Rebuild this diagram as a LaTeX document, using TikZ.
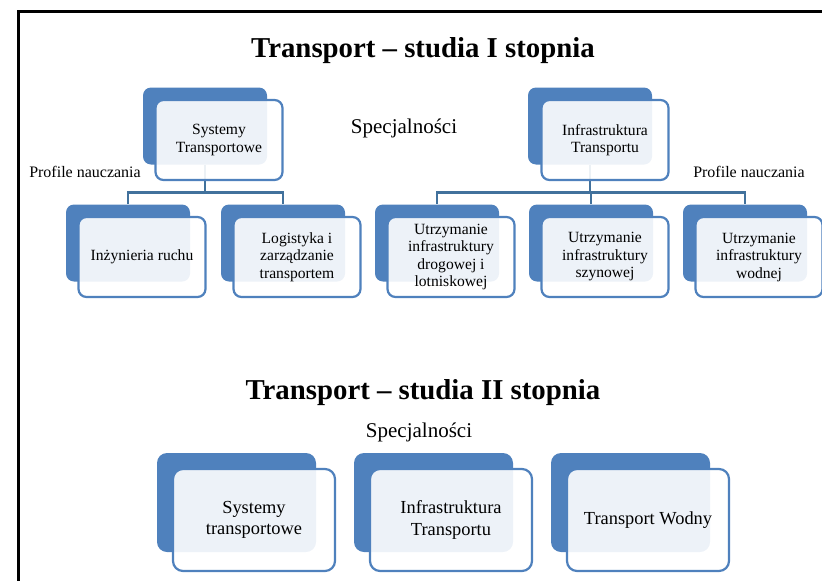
\documentclass[tikz,border=0pt]{standalone}
\usepackage{fontspec}
\setmainfont{Liberation Serif}
\usepackage{tikz}
\usetikzlibrary{positioning}
\definecolor{tileblue}{HTML}{4F81BD}
\definecolor{lineblue}{HTML}{41719C}

\begin{document}
\begin{tikzpicture}[x=1pt,y=-1pt,
    back/.style={fill=tileblue,rounded corners=8pt,minimum width=124pt,minimum height=77pt,inner sep=0pt},
    front/.style={draw=tileblue,line width=2.2pt,fill=white,fill opacity=0.9,text opacity=1,
        rounded corners=8pt,minimum width=127pt,minimum height=80pt,inner sep=2pt,
        align=center,font=\fontsize{15.6}{17.5}\selectfont},
    wide back/.style={back,rounded corners=10pt,minimum width=159pt,minimum height=99pt},
    wide front/.style={front,rounded corners=10pt,minimum width=162pt,minimum height=102pt,
        font=\fontsize{18.4}{21.5}\selectfont},
    title/.style={font=\bfseries\fontsize{28.8}{32}\selectfont},
    label/.style={font=\fontsize{16}{19}\selectfont},
    conn/.style={draw=lineblue,line width=2.5pt}]
    \useasboundingbox (0,0) rectangle (822,581);
    \draw[line width=3pt] (822,11) -- (18,11) -- (18,581);

    % studia I stopnia
    \node[title] (t1) at (423,51) {Transport -- studia I stopnia};
    \node[label,font=\fontsize{21}{24}\selectfont] (sp1) at (404,128) {Specjalności};
    \node[label] (pn1) at (85,172) {Profile nauczania};
    \node[label] (pn2) at (749,172) {Profile nauczania};

    \node[back] (st0) at (205,126) {};
    \node[back] (it0) at (590,126) {};
    \node[back] (ir0) at (128,243) {};
    \node[back] (lz0) at (283,243) {};
    \node[back] (ud0) at (437,243) {};
    \node[back] (us0) at (591,243) {};
    \node[back] (uw0) at (745,243) {};

    \foreach \c in {ir0,lz0}
        \draw[conn] (st0.south) -- ++(0,28) -| (\c.north);
    \foreach \c in {ud0,us0,uw0}
        \draw[conn] (it0.south) -- ++(0,28) -| (\c.north);

    \node[front] (st) at (219,140) {Systemy\\Transportowe};
    \node[front] (it) at (605,140) {Infrastruktura\\Transportu};
    \node[front] (ir) at (142,257) {Inżynieria ruchu};
    \node[front] (lz) at (297,257) {Logistyka i\\zarządzanie\\transportem};
    \node[front] (ud) at (451,257) {Utrzymanie\\infrastruktury\\drogowej i\\lotniskowej};
    \node[front] (us) at (605,257) {Utrzymanie\\infrastruktury\\szynowej};
    \node[front] (uw) at (759,257) {Utrzymanie\\infrastruktury\\wodnej};

    % studia II stopnia
    \node[title] (t2) at (423,393) {Transport -- studia II stopnia};
    \node[label,font=\fontsize{21}{24}\selectfont] (sp2) at (419,432) {Specjalności};

    \node[wide back] (sy0) at (236.5,502.5) {};
    \node[wide back] (in0) at (433.5,502.5) {};
    \node[wide back] (tw0) at (630.5,502.5) {};
    \node[wide front] (sy) at (254,520) {Systemy\\transportowe};
    \node[wide front] (in) at (451,520) {Infrastruktura\\Transportu};
    \node[wide front] (tw) at (648,520) {Transport Wodny};
\end{tikzpicture}
\end{document}
